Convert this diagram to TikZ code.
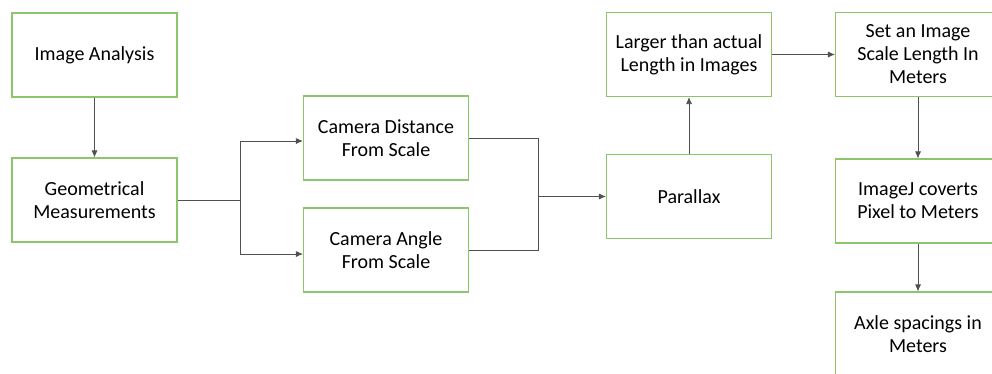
\documentclass[tikz,border=0pt]{standalone}
\usepackage{fontspec}
\setmainfont{Carlito}
\usepackage{tikz}
\tikzset{>=latex}
\usetikzlibrary{arrows.meta}
\usetikzlibrary{calc}
\definecolor{boxline}{RGB}{140,197,106}
\definecolor{wire}{RGB}{80,80,80}
\tikzset{
    stage/.style = {draw=boxline, line width=1.1pt, minimum width=165pt, minimum height=84pt,
        align=center, inner sep=2pt, font=\fontsize{20}{23}\selectfont},
    flow/.style = {draw=wire, line width=0.8pt, ->, >={Latex[length=7pt,width=6pt]}}
}

\begin{document}
\begin{tikzpicture}[x=1pt, y=-1pt]
            \useasboundingbox (0, 0) rectangle (992, 373);
            \clip (0, 0) rectangle (992, 373);
            % left column
            \node[stage] (analysis) at (94.5, 55) {Image Analysis};
            \node[stage] (geometry) at (94.5, 200) {Geometrical\\Measurements};
            % the two camera factors
            \node[stage] (distance) at (386, 138) {Camera Distance\\From Scale};
            \node[stage] (angle) at (386, 250) {Camera Angle\\From Scale};
            % parallax and its effect
            \node[stage] (parallax) at (689, 196.5) {Parallax};
            \node[stage] (larger) at (689, 54.5) {Larger than actual\\Length in Images};
            % right column runs off the page
            \node[stage] (setscale) at (918, 54.5) {Set an Image\\Scale Length In\\Meters};
            \node[stage] (imagej) at (918, 201) {ImageJ coverts\\Pixel to Meters};
            \node[stage] (axle) at (918, 334) {Axle spacings in\\Meters};
            \coordinate (split) at (240, 200);
            \coordinate (merge) at (538, 196.5);
            \draw[flow] (analysis) -- (geometry);
            \draw[draw=wire, line width=0.8pt] (geometry.east) -- (split);
            \draw[flow] (split) |- ($(distance.west) + (0, 3)$);
            \draw[flow] (split) |- ($(angle.west) + (0, 4)$);
            \draw[draw=wire, line width=0.8pt] (distance.east) -| (merge);
            \draw[draw=wire, line width=0.8pt] (angle.east) -| (merge);
            \draw[flow] (merge) -- (parallax.west);
            \draw[flow] (parallax) -- (larger);
            \draw[flow] (larger.east) -- (larger.east -| setscale.west);
            \draw[flow] (setscale) -- (imagej);
            \draw[flow] (imagej) -- (axle);
        \end{tikzpicture}
\end{document}
